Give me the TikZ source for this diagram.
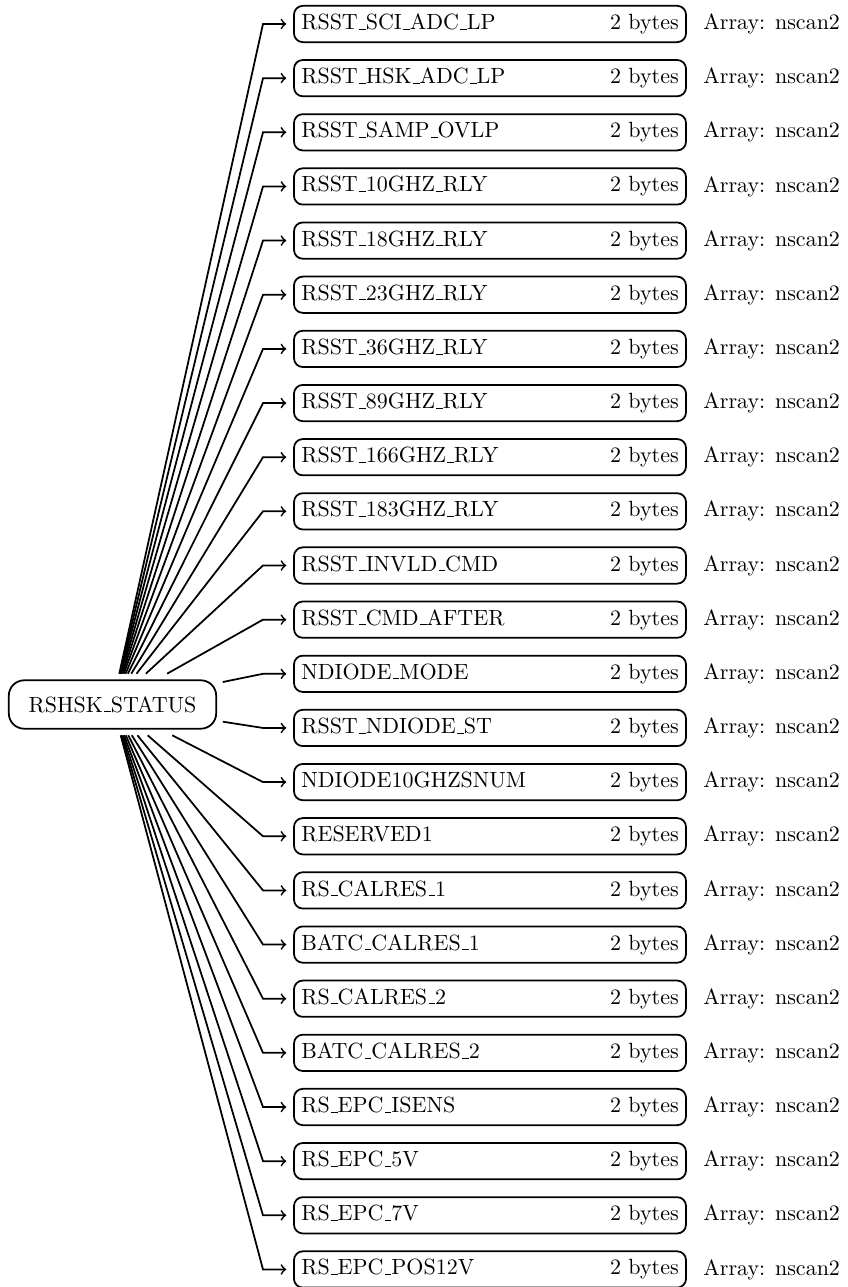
\documentclass[tikz,border=0pt]{standalone}
% short low rule used as the underscore in the field names
\newcommand\lowbar{\leavevmode\kern.06em\vbox{\hrule width.3em}}
\begin{document}
\begin{tikzpicture}[x=0.4545pt,y=-0.4545pt,
  conn/.style={->,thick},
  rootbox/.style={draw,thick,rounded corners=7pt,inner xsep=9pt,minimum height=22pt,outer sep=3pt},
  fieldbox/.style={draw,thick,rounded corners=4pt,text width=171.5pt,minimum height=16.5pt,outer sep=3.5pt},
  arraylbl/.style={anchor=west,inner xsep=0pt}]
\useasboundingbox (0,0) rectangle (847,1287);
% root record
\node[rootbox] (root) at (112.5,704.5) {RSHSK\lowbar STATUS};
% fields of the record, one per row, each with its size and array dimension
\foreach \name [count=\i from 0] in {
  RSST\lowbar SCI\lowbar ADC\lowbar LP, RSST\lowbar HSK\lowbar ADC\lowbar LP, RSST\lowbar SAMP\lowbar OVLP,
  RSST\lowbar 10GHZ\lowbar RLY, RSST\lowbar 18GHZ\lowbar RLY, RSST\lowbar 23GHZ\lowbar RLY, RSST\lowbar 36GHZ\lowbar RLY,
  RSST\lowbar 89GHZ\lowbar RLY, RSST\lowbar 166GHZ\lowbar RLY, RSST\lowbar 183GHZ\lowbar RLY,
  RSST\lowbar INVLD\lowbar CMD, RSST\lowbar CMD\lowbar AFTER, NDIODE\lowbar MODE, RSST\lowbar NDIODE\lowbar ST,
  NDIODE10GHZSNUM, RESERVED1, RS\lowbar CALRES\lowbar 1, BATC\lowbar CALRES\lowbar 1,
  RS\lowbar CALRES\lowbar 2, BATC\lowbar CALRES\lowbar 2, RS\lowbar EPC\lowbar ISENS, RS\lowbar EPC\lowbar 5V,
  RS\lowbar EPC\lowbar 7V, RS\lowbar EPC\lowbar POS12V}{
  \pgfmathsetmacro\yy{24+54.15*\i}
  \node[fieldbox] (f\i) at (490,\yy) {\name\hfill 2 bytes};
  \node[arraylbl] (a\i) at (703,\yy) {Array: nscan2};
  \coordinate (k\i) at (263,\yy);
  \draw[conn] (root) -- (k\i) -- (f\i);
}
\end{tikzpicture}
\end{document}
